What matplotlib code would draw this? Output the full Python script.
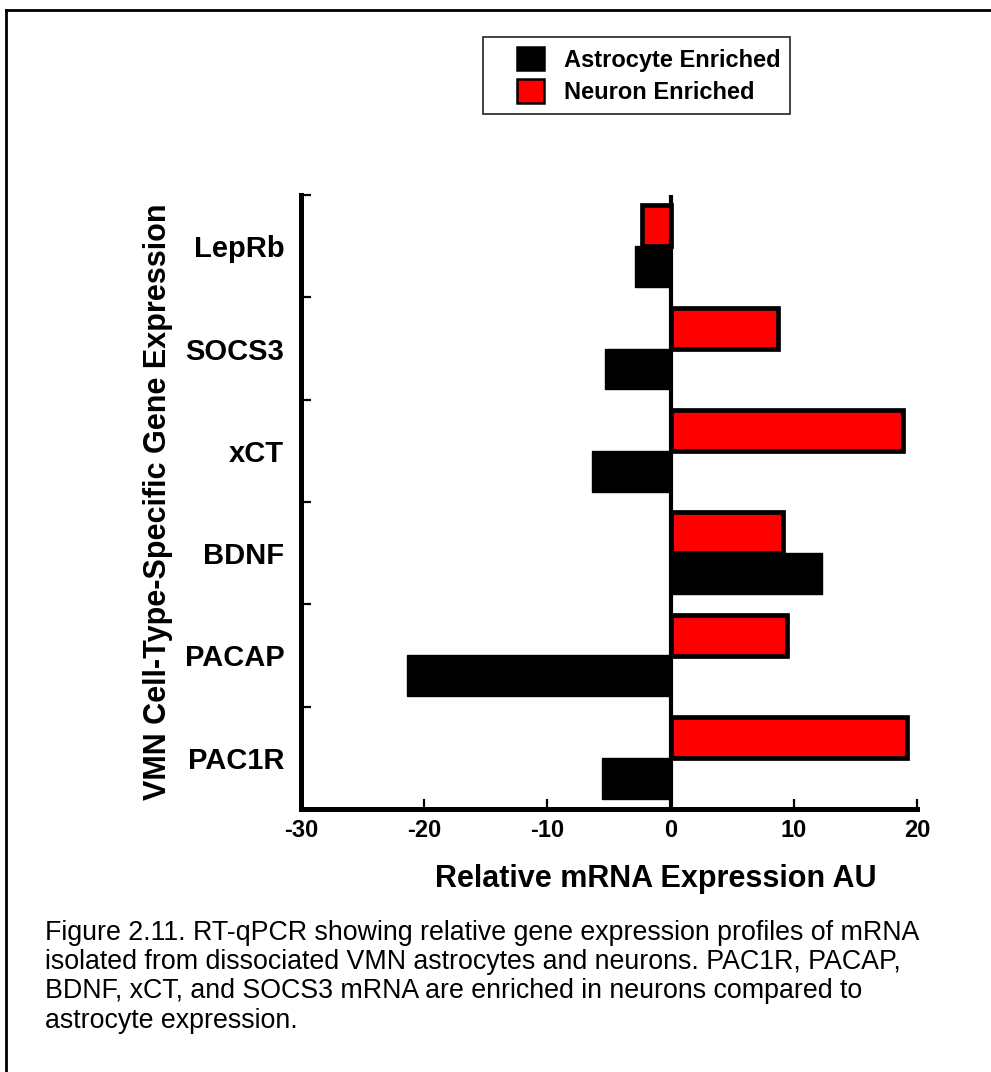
import matplotlib
matplotlib.use("Agg")
import matplotlib.pyplot as plt
import numpy as np
from matplotlib.patches import Patch, Rectangle
from matplotlib.lines import Line2D

plt.rcParams["font.family"] = ["Liberation Sans", "DejaVu Sans"]

# genes, top to bottom
genes = ["LepRb", "SOCS3", "xCT", "BDNF", "PACAP", "PAC1R"]
neuron = [-2.36, 8.7, 18.9, 9.1, 9.45, 19.2]
astro = [-2.85, -5.3, -6.4, 12.3, -21.4, -5.6]
xticks = [-30, -20, -10, 0, 10, 20]

caption = ("Figure 2.11. RT-qPCR showing relative gene expression profiles of mRNA\n"
           "isolated from dissociated VMN astrocytes and neurons. PAC1R, PACAP,\n"
           "BDNF, xCT, and SOCS3 mRNA are enriched in neurons compared to\n"
           "astrocyte expression.")

W, H = 991, 1072
fig = plt.figure(figsize=(W / 100, H / 100), dpi=100)
ax = fig.add_axes([301 / W, 1 - 809 / H, 616 / W, 614 / H])

n = len(genes)
ypos = np.arange(n)[::-1]  # LepRb at top
ax.barh(ypos + 0.2, neuron, height=0.4, color="#ff0000", edgecolor="black",
        linewidth=3.4, zorder=2)
ax.barh(ypos - 0.2, astro, height=0.4, color="black", edgecolor="black",
        linewidth=1.0, zorder=3)
ax.axvline(0, color="black", linewidth=3.0, zorder=4)

ax.set_xlim(-30, 20)
ax.set_ylim(-0.5, n - 0.5)
for s in ["top", "right"]:
    ax.spines[s].set_visible(False)
for s in ["left", "bottom"]:
    ax.spines[s].set_linewidth(3.6)

ax.set_xticks(xticks)
ax.set_xticklabels([str(v) for v in xticks], fontsize=17, fontweight="bold")
ax.tick_params(axis="x", direction="in", length=7, width=1.6, pad=7)

ax.set_yticks(np.arange(n + 1) - 0.5)
ax.set_yticklabels([])
ax.tick_params(axis="y", which="major", direction="in", length=7, width=1.6)
ax.set_yticks(ypos, minor=True)
ax.set_yticklabels(genes, minor=True, fontsize=21, fontweight="bold")
ax.tick_params(axis="y", which="minor", length=0, pad=12)

ax.set_xlabel("Relative mRNA Expression AU", fontsize=22, fontweight="bold")
ax.xaxis.set_label_coords((656 - 301) / 616, -0.09)
ax.set_ylabel("VMN Cell-Type-Specific Gene Expression", fontsize=22,
              fontweight="bold")
ax.yaxis.set_label_coords(-0.207, 0.5)

# legend
handles = [Patch(facecolor="black", edgecolor="black", linewidth=1.8),
           Patch(facecolor="#ff0000", edgecolor="black", linewidth=1.8)]
leg = fig.legend(handles, ["Astrocyte Enriched", "Neuron Enriched"],
                 loc="upper left", bbox_to_anchor=(517 / W, 1 - 47 / H),
                 frameon=False, borderaxespad=0, borderpad=0,
                 prop={"size": 17, "weight": "bold"},
                 handlelength=1.15, handleheight=1.15, handletextpad=0.85,
                 labelspacing=0.32)
fig.patches.append(Rectangle((483 / W, 1 - 114 / H), 307 / W, 77 / H,
                             transform=fig.transFigure, fill=False,
                             edgecolor="#222222", linewidth=1.2))

# caption
fig.text(45 / W, 1 - 920 / H, caption, fontsize=19.3, ha="left", va="top",
         linespacing=1.16)

# page border (top and left visible)
fig.add_artist(Line2D([6 / W, 1], [1 - 10 / H, 1 - 10 / H],
                      transform=fig.transFigure, color="black", linewidth=2))
fig.add_artist(Line2D([6 / W, 6 / W], [0, 1 - 10 / H],
                      transform=fig.transFigure, color="black", linewidth=2))

fig.savefig("out.png", dpi=100)
